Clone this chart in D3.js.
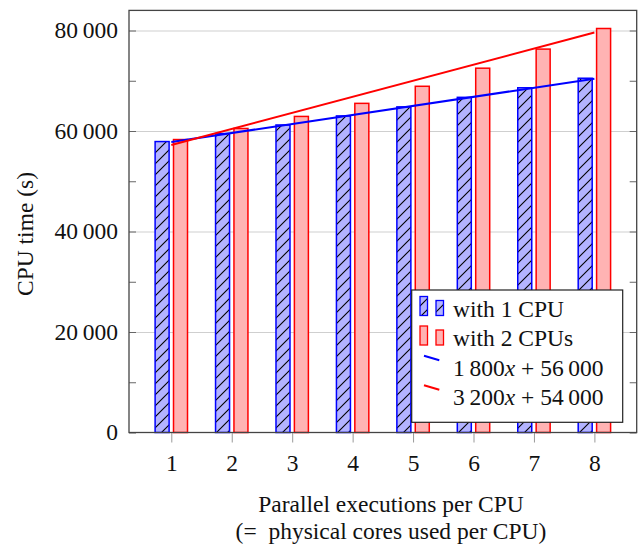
<!DOCTYPE html>
<html>
<head>
<meta charset="utf-8">
<script src="https://cdn.jsdelivr.net/npm/d3@7"></script>
<style>
  body { margin: 0; background: #fff; }
  svg text { font-family: "Liberation Serif", "Times New Roman", serif; fill: #111; }
</style>
</head>
<body>
<div id="chart"></div>
<script>
// Data
const executions = [1, 2, 3, 4, 5, 6, 7, 8];
const oneCpu = [57900, 59500, 61200, 63000, 64800, 66700, 68600, 70500];
const twoCpus = [58300, 60500, 62900, 65500, 68900, 72500, 76300, 80400];
const fitOne = { slope: 1800, intercept: 56000 };
const fitTwo = { slope: 3200, intercept: 54000 };
const yMajorTicks = [0, 20000, 40000, 60000, 80000];
const yMinorTicks = [0, 10000, 20000, 30000, 40000, 50000, 60000, 70000, 80000];
const legendLabels = ['with 1 CPU', 'with 2 CPUs', '1 800|x| + 56 000', '3 200|x| + 54 000'];

const width = 640, height = 547;
const plot = { left: 129, right: 636.7, top: 10.4, bottom: 432.5 };
const fontSize = 23.5;

const svg = d3.select('#chart').append('svg')
    .attr('width', width)
    .attr('height', height);

const x = d3.scaleLinear().domain([0.3, 8.7]).range([plot.left, plot.right]);
const y = d3.scaleLinear().domain([0, 84000]).range([plot.bottom, plot.top]);

const fmt = v => v === 0 ? '0' : d3.format(',')(v).replace(/,/g, '\u2009');

// hatch pattern for the 1 CPU bars
const defs = svg.append('defs');
const hs = 11;
defs.append('pattern')
    .attr('id', 'hatch')
    .attr('patternUnits', 'userSpaceOnUse')
    .attr('width', hs)
    .attr('height', hs)
  .call(p => {
      p.append('rect').attr('width', hs).attr('height', hs).attr('fill', '#b3b3ff');
      p.append('path').attr('d', `M-2,${hs + 2} L${hs + 2},-2 M-2,2 L2,-2 M${hs - 2},${hs + 2} L${hs + 2},${hs - 2}`)
          .attr('stroke', '#000').attr('stroke-width', 1.1);
  });

// grid lines
svg.append('g')
    .attr('transform', `translate(${plot.left},0)`)
    .call(d3.axisLeft(y).tickValues(yMajorTicks.slice(1)).tickSize(-(plot.right - plot.left)).tickFormat(''))
    .call(g => g.select('.domain').remove())
    .call(g => g.selectAll('line').attr('stroke', '#cfcfcf').attr('stroke-width', 1));

// bars
const barW = 14, barOff = 9.2;
svg.append('g').selectAll('rect')
    .data(executions)
  .enter().append('rect')
    .attr('x', (d, i) => x(d) - barOff - barW / 2)
    .attr('y', (d, i) => y(oneCpu[i]))
    .attr('width', barW)
    .attr('height', (d, i) => y(0) - y(oneCpu[i]))
    .attr('fill', 'url(#hatch)')
    .attr('stroke', '#0000ff')
    .attr('stroke-width', 1.5);

svg.append('g').selectAll('rect')
    .data(executions)
  .enter().append('rect')
    .attr('x', (d, i) => x(d) + barOff - barW / 2)
    .attr('y', (d, i) => y(twoCpus[i]))
    .attr('width', barW)
    .attr('height', (d, i) => y(0) - y(twoCpus[i]))
    .attr('fill', '#ffb3b3')
    .attr('stroke', '#ff0000')
    .attr('stroke-width', 1.5);

// fitted lines
const fitLine = f => d3.line()
    .x(d => x(d))
    .y(d => y(f.slope * d + f.intercept));
const ends = [executions[0], executions[executions.length - 1]];

svg.append('path').datum(ends)
    .attr('d', fitLine(fitOne))
    .attr('fill', 'none').attr('stroke', '#0000ff').attr('stroke-width', 2);
svg.append('path').datum(ends)
    .attr('d', fitLine(fitTwo))
    .attr('fill', 'none').attr('stroke', '#ff0000').attr('stroke-width', 2);

// y axis, left side with labels
svg.append('g')
    .attr('transform', `translate(${plot.left},0)`)
    .call(d3.axisLeft(y).tickValues(yMinorTicks).tickSize(-7).tickPadding(11)
        .tickFormat(v => yMajorTicks.includes(v) ? fmt(v) : ''))
    .call(g => g.select('.domain').remove())
    .call(g => g.selectAll('line').attr('stroke', '#666'))
    .call(g => g.selectAll('text').attr('font-size', fontSize).attr('font-family', null).attr('dy', '0.3em'));

// y axis, right side
svg.append('g')
    .attr('transform', `translate(${plot.right},0)`)
    .call(d3.axisRight(y).tickValues(yMinorTicks).tickSize(-7).tickFormat(''))
    .call(g => g.select('.domain').remove())
    .call(g => g.selectAll('line').attr('stroke', '#666'));

// x axis
svg.append('g')
    .attr('transform', `translate(0,${plot.bottom})`)
    .call(d3.axisBottom(x).tickValues(executions).tickSize(10).tickPadding(12))
    .call(g => g.select('.domain').remove())
    .call(g => g.selectAll('line').attr('stroke', '#999'))
    .call(g => g.selectAll('text').attr('font-size', fontSize).attr('font-family', null));

// frame
svg.append('rect')
    .attr('x', plot.left).attr('y', plot.top)
    .attr('width', plot.right - plot.left).attr('height', plot.bottom - plot.top)
    .attr('fill', 'none').attr('stroke', '#444').attr('stroke-width', 1.3);

// axis titles
svg.append('text')
    .attr('transform', 'translate(33,234) rotate(-90)')
    .attr('text-anchor', 'middle')
    .attr('font-size', fontSize)
    .text('CPU time (s)');

svg.append('text')
    .attr('x', 391).attr('y', 511.5)
    .attr('text-anchor', 'middle')
    .attr('font-size', fontSize)
    .text('Parallel executions per CPU');

svg.append('text')
    .attr('x', 391).attr('y', 538.5)
    .attr('text-anchor', 'middle')
    .attr('font-size', fontSize)
    .text('(=\u2002physical cores used per CPU)');

// legend
const legend = svg.append('g');
legend.append('rect')
    .attr('x', 411.7).attr('y', 290)
    .attr('width', 211).attr('height', 132.3)
    .attr('fill', '#fff').attr('stroke', '#222').attr('stroke-width', 1.2);

const rowY = i => 316.5 + i * 29.5;

// bar icons
const iconStyle = [
    { fill: 'url(#hatch)', stroke: '#0000ff' },
    { fill: '#ffb3b3', stroke: '#ff0000' }
];
iconStyle.forEach((s, i) => {
    const base = rowY(i) - 1;
    legend.append('rect')
        .attr('x', 420).attr('y', base - 19).attr('width', 7.5).attr('height', 19)
        .attr('fill', s.fill).attr('stroke', s.stroke).attr('stroke-width', 1.3);
    legend.append('rect')
        .attr('x', 436).attr('y', base - 15).attr('width', 7.5).attr('height', 15)
        .attr('fill', s.fill).attr('stroke', s.stroke).attr('stroke-width', 1.3);
});

// line icons
['#0000ff', '#ff0000'].forEach((c, i) => {
    const cy = rowY(i + 2) - 17.5;
    legend.append('line')
        .attr('x1', 424).attr('y1', cy - 2.3)
        .attr('x2', 439.3).attr('y2', cy + 2.3)
        .attr('stroke', c).attr('stroke-width', 2);
});

legendLabels.forEach((lab, i) => {
    const t = legend.append('text')
        .attr('x', 453).attr('y', rowY(i))
        .attr('font-size', fontSize);
    lab.split('|').forEach((part, k) => {
        t.append('tspan')
            .attr('font-style', k % 2 === 1 ? 'italic' : null)
            .text(part.replace(/(\d) (\d)/g, '$1\u2009$2'));
    });
});
</script>
</body>
</html>
